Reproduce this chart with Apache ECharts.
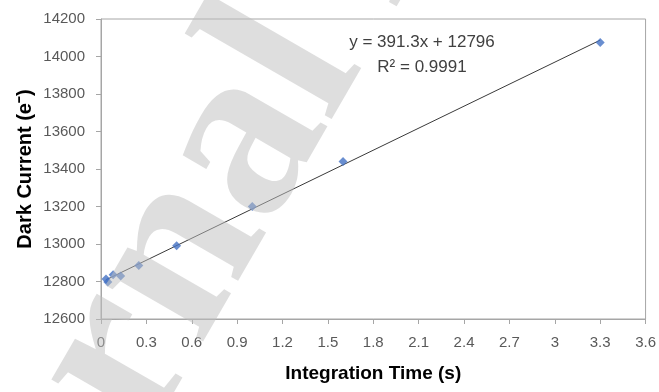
<!DOCTYPE html>
<html>
<head>
<meta charset="utf-8">
<script src="https://cdn.jsdelivr.net/npm/echarts@6/dist/echarts.min.js"></script>
<style>
  html, body { margin: 0; padding: 0; background: #fff; }
  #chart { width: 659px; height: 392px; }
</style>
</head>
<body>
<div id="chart"></div>
<script>
// Integration time (s) and measured dark current (electrons)
const integrationTime = [0.033, 0.045, 0.08, 0.13, 0.25, 0.5, 1.0, 1.6, 3.3];
const darkCurrent = [12813, 12797, 12836, 12829, 12886, 12991, 13200, 13440, 14075];

// Linear fit reported on the chart
const fitSlope = 391.3;
const fitIntercept = 12796;
const fitR2 = 0.9991;

// Axis ranges and tick steps
const xTicks = { min: 0, max: 3.6, step: 0.3 };
const yTicks = { min: 12600, max: 14200, step: 200 };

const xTitle = 'Integration Time (s)';
const yTitle = 'Dark Current (e\u207B)';
const watermark = 'Journal Pre-proof';

const points = integrationTime.map((t, i) => [t, darkCurrent[i]]);
const xLo = Math.min(...integrationTime);
const xHi = Math.max(...integrationTime);
const fitLine = [
  [xLo, fitSlope * xLo + fitIntercept],
  [xHi, fitSlope * xHi + fitIntercept]
];

const chart = echarts.init(document.getElementById('chart'), null, { renderer: 'canvas' });

const labelFont = '"Liberation Sans", Arial, sans-serif';
const axisGray = '#a6a6a6';

chart.setOption({
  animation: false,
  backgroundColor: '#ffffff',
  grid: {
    left: 101, right: 12, top: 19, bottom: 73,
    show: true, borderColor: axisGray, borderWidth: 1
  },
  xAxis: {
    type: 'value',
    min: xTicks.min, max: xTicks.max, interval: xTicks.step,
    name: xTitle,
    nameLocation: 'middle',
    nameGap: 45,
    nameTextStyle: { fontFamily: labelFont, fontSize: 19, fontWeight: 'bold', color: '#000' },
    axisLine: { show: true, lineStyle: { color: axisGray, width: 1 } },
    axisTick: { show: true, length: 5, lineStyle: { color: axisGray } },
    splitLine: { show: false },
    axisLabel: {
      margin: 16,
      fontFamily: labelFont, fontSize: 15, color: '#595959',
      formatter: v => String(Number(v.toFixed(1)))
    }
  },
  yAxis: {
    type: 'value',
    min: yTicks.min, max: yTicks.max, interval: yTicks.step,
    axisLine: { show: true, lineStyle: { color: axisGray, width: 1 } },
    axisTick: { show: true, length: 5, lineStyle: { color: axisGray } },
    splitLine: { show: false },
    axisLabel: {
      margin: 16, fontFamily: labelFont, fontSize: 15, color: '#595959',
      formatter: v => String(v)
    }
  },
  series: [
    {
      type: 'line',
      data: fitLine,
      symbol: 'none',
      silent: true,
      lineStyle: { color: '#3a3a3a', width: 1 },
      z: 2
    },
    {
      type: 'scatter',
      data: points,
      symbol: 'diamond',
      symbolSize: 9,
      itemStyle: { color: '#4472c4' },
      z: 3
    }
  ],
  graphic: [
    {
      type: 'text',
      x: 25, y: 169,
      rotation: Math.PI / 2,
      style: {
        text: yTitle,
        font: 'bold 20px ' + labelFont,
        fill: '#000',
        align: 'center',
        verticalAlign: 'middle'
      }
    },
    {
      type: 'text',
      x: 422, y: 42,
      style: {
        text: 'y = ' + fitSlope + 'x + ' + fitIntercept,
        font: '17px ' + labelFont,
        fill: '#404040',
        align: 'center',
        verticalAlign: 'middle'
      }
    },
    {
      type: 'text',
      x: 422, y: 67,
      style: {
        text: 'R\u00B2 = ' + fitR2,
        font: '17px ' + labelFont,
        fill: '#404040',
        align: 'center',
        verticalAlign: 'middle'
      }
    },
    {
      type: 'text',
      x: -100, y: 740,
      rotation: Math.PI / 3,
      silent: true,
      z: 100,
      style: {
        text: watermark,
        font: 'bold 245px "Liberation Serif", "DejaVu Serif", serif',
        fill: 'rgba(190,190,190,0.5)',
        align: 'left',
        verticalAlign: 'middle'
      }
    }
  ]
});
</script>
</body>
</html>
